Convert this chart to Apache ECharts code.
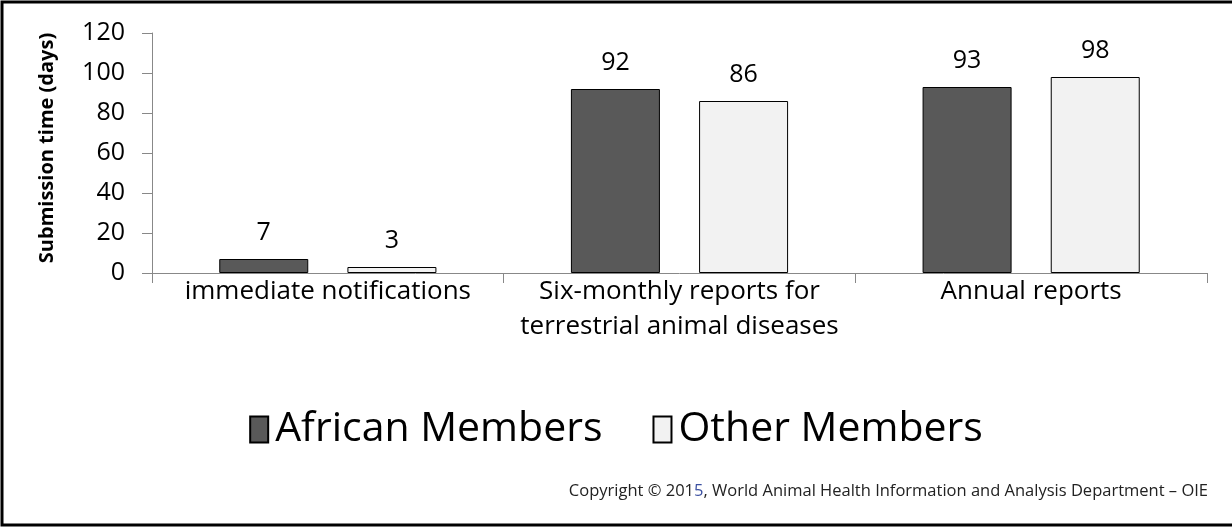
<!DOCTYPE html>
<html>
<head>
<meta charset="utf-8">
<script src="https://cdn.jsdelivr.net/npm/echarts@6/dist/echarts.min.js"></script>
<style>
  html, body { margin: 0; padding: 0; background: #fff; }
  #chart { width: 1232px; height: 527px; }
</style>
</head>
<body>
<div id="chart"></div>
<script>
// Report categories (x axis)
const categories = [
  'immediate notifications',
  'Six-monthly reports for\nterrestrial animal diseases',
  'Annual reports'
];
// Average submission time in days
const africanMembers = [7, 92, 93];
const otherMembers = [3, 86, 98];
// Y axis range
const yMin = 0, yMax = 120, yStep = 20;

const FONT = '"Open Sans", Lato, sans-serif';

const chart = echarts.init(document.getElementById('chart'), null, { renderer: 'canvas' });

const labelStyle = {
  show: true,
  position: 'top',
  distance: 14,
  fontFamily: FONT,
  fontSize: 25,
  color: '#000'
};

chart.setOption({
  animation: false,
  backgroundColor: '#fff',
  grid: { left: 152, right: 25, top: 33, bottom: 254, containLabel: false },
  legend: {
    top: 404,
    left: 'center',
    itemWidth: 18,
    itemHeight: 26,
    itemGap: 50,
    icon: 'rect',
    textStyle: { fontFamily: FONT, fontSize: 41, color: '#000', padding: [0, 0, 0, 2] },
    data: ['African Members', 'Other Members']
  },
  xAxis: {
    type: 'category',
    data: categories,
    axisLine: { lineStyle: { color: '#888', width: 1 } },
    axisTick: { show: true, length: 10, lineStyle: { color: '#888' } },
    axisLabel: {
      margin: 1,
      fontFamily: FONT,
      fontSize: 26,
      lineHeight: 35,
      color: '#000',
      interval: 0
    }
  },
  yAxis: {
    type: 'value',
    min: yMin,
    max: yMax,
    interval: yStep,
    name: 'Submission time (days)',
    nameLocation: 'middle',
    nameGap: 95,
    nameRotate: 90,
    nameTextStyle: {
      fontFamily: FONT, fontSize: 20, fontWeight: 'bold', color: '#000',
      padding: [0, 0, 0, 10]
    },
    axisLine: { show: true, lineStyle: { color: '#888', width: 1 } },
    axisTick: { show: true, length: 10, lineStyle: { color: '#888' } },
    splitLine: { show: false },
    axisLabel: { margin: 27, fontFamily: FONT, fontSize: 25, color: '#000' }
  },
  series: [
    {
      name: 'African Members',
      type: 'bar',
      data: africanMembers,
      barWidth: 89,
      barGap: '44%',
      itemStyle: { color: '#595959', borderColor: '#000', borderWidth: 1 },
      label: labelStyle
    },
    {
      name: 'Other Members',
      type: 'bar',
      data: otherMembers,
      barWidth: 89,
      barGap: '44%',
      itemStyle: { color: '#f2f2f2', borderColor: '#000', borderWidth: 1 },
      label: labelStyle
    }
  ],
  graphic: [
    {
      // frame: left, top and bottom edges
      type: 'polyline',
      shape: { points: [[1240, 2], [2, 2], [2, 525], [1240, 525]] },
      style: { fill: 'none', stroke: '#000', lineWidth: 3 },
      silent: true
    },
    {
      type: 'text',
      right: 24,
      top: 483,
      style: {
        text: '{a|Copyright © 201}{b|5}{a|, World Animal Health Information and Analysis Department – OIE}',
        rich: {
          a: { fontFamily: FONT, fontSize: 16.5, fill: '#222' },
          b: { fontFamily: FONT, fontSize: 16.5, fill: '#3a4fa0' }
        }
      }
    }
  ]
});
</script>
</body>
</html>
